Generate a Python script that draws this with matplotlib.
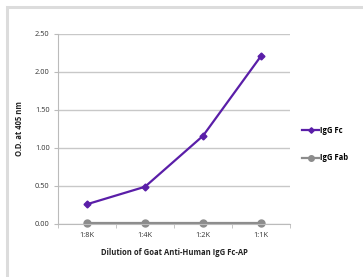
import matplotlib.pyplot as plt
import numpy as np

# data
dilutions = ['1:8K', '1:4K', '1:2K', '1:1K']
igg_fc = [0.26, 0.49, 1.16, 2.21]
igg_fab = [0.01, 0.01, 0.01, 0.01]
yticks = [0.0, 0.5, 1.0, 1.5, 2.0, 2.5]

plt.rcParams['font.family'] = ['Open Sans', 'DejaVu Sans']

fig = plt.figure(figsize=(3.63, 2.77), dpi=100)
# light frame around the chart
fig.patches.append(plt.Rectangle((7 / 363, -0.1), 1.2, 1 - 7 / 277 + 0.1,
                                 transform=fig.transFigure, fill=False,
                                 edgecolor='#dcdcdc', linewidth=2.2))

ax = fig.add_axes([58 / 363, 1 - 224 / 277, 232 / 363, 190 / 277])
x = np.arange(len(dilutions))

ax.plot(x, igg_fc, color='#5a1ea8', marker='D', markersize=3.5, linewidth=1.6, label='IgG Fc')
ax.plot(x, igg_fab, color='#8c8c8c', marker='o', markersize=5, linewidth=1.6, label='IgG Fab',
        clip_on=False)

ax.set_xlim(-0.5, len(dilutions) - 0.5)
ax.set_ylim(0, 2.5)
ax.set_yticks(yticks)
ax.set_yticklabels([f'{v:.2f}' for v in yticks], fontsize=5.3, color='#333333')
ax.set_xticks(x)
ax.set_xticklabels(dilutions, fontsize=5.3, color='#333333')
ax.tick_params(axis='x', length=0, pad=6)
ax.set_xticks(np.arange(-0.5, len(dilutions)), minor=True)
ax.tick_params(axis='x', which='minor', length=3, color='#bbbbbb')
ax.tick_params(axis='y', length=3, color='#bbbbbb', pad=3)

ax.grid(axis='y', color='#c8c8c8', linewidth=1)
ax.set_axisbelow(True)
for s in ['top', 'right']:
    ax.spines[s].set_visible(False)
ax.spines['left'].set_color('#bbbbbb')
ax.spines['bottom'].set_color('#bbbbbb')

ax.set_ylabel('O.D. at 405 nm', fontsize=5.5, fontweight='bold', color='#222222', labelpad=8)
ax.set_xlabel('Dilution of Goat Anti-Human IgG Fc-AP', fontsize=5.5, fontweight='bold',
              color='#222222', labelpad=6)

ax.legend(loc='center left', bbox_to_anchor=(1.0, 0.42), frameon=False,
          prop={'weight': 'bold', 'size': 5.5}, handlelength=2.2, handletextpad=0.1,
          labelspacing=2.4, borderaxespad=1.2, markerscale=0.8)

fig.savefig('out.png', dpi=100)
